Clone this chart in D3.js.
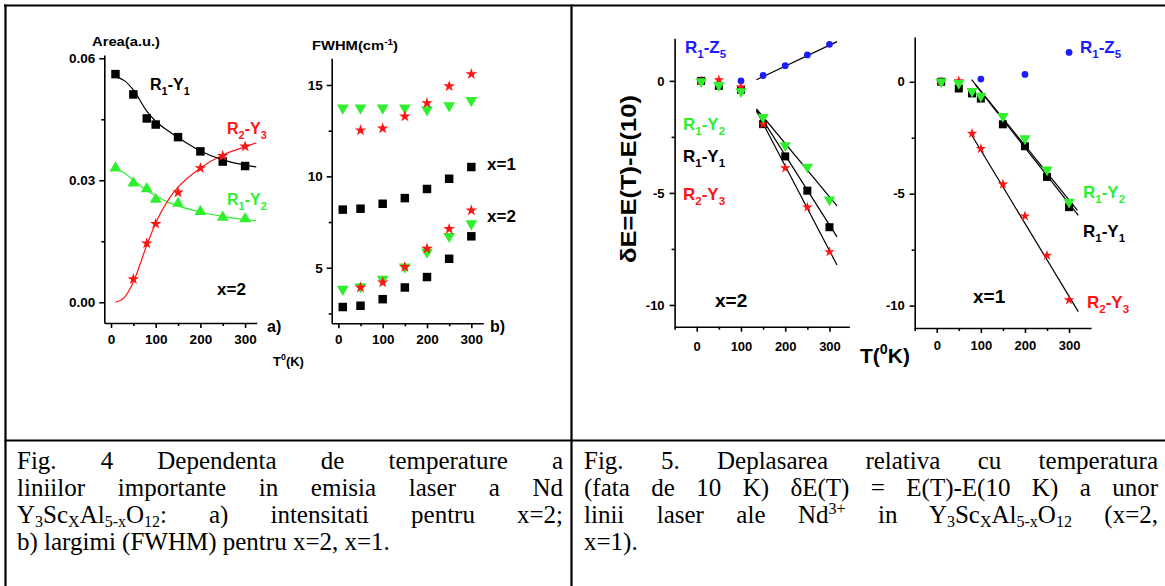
<!DOCTYPE html>
<html><head><meta charset="utf-8">
<script src="https://cdn.jsdelivr.net/npm/d3@7"></script>
<style>body{margin:0;background:#fff} svg{display:block}</style>
</head><body>
<svg id="c" width="1165" height="586"></svg>
<script>
// ---------- DATA ----------
// Fig 4 a) integrated area vs T, x=2
const T4a = [10, 50, 80, 100, 150, 200, 250, 300];
const areaR1Y1 = [0.0561, 0.0511, 0.0452, 0.0437, 0.0406, 0.0371, 0.0346, 0.0335];
const areaR1Y2 = [0.0330, 0.0293, 0.0279, 0.0253, 0.0243, 0.0223, 0.0209, 0.0205];
const T4aStar = [50, 80, 100, 150, 200, 250, 300];
const areaR2Y3 = [0.0057, 0.0145, 0.0193, 0.0270, 0.0330, 0.0360, 0.0383];
const fitT4a = [10, 30, 50, 80, 100, 130, 150, 200, 250, 300, 325];
const fitR1Y1 = [0.0555, 0.0545, 0.0522, 0.0470, 0.0445, 0.0420, 0.0405, 0.0372, 0.0350, 0.0337, 0.0333];
const fitR1Y2 = [0.0328, 0.0318, 0.0300, 0.0275, 0.0262, 0.0245, 0.0237, 0.0222, 0.0211, 0.0203, 0.0200];
const fitR2Y3 = [0.0000, 0.0012, 0.0050, 0.0140, 0.0195, 0.0255, 0.0283, 0.0330, 0.0362, 0.0382, 0.0392];

// Fig 4 b) FWHM vs T
const T4b = [10, 50, 100, 150, 200, 250, 300];
const T4bStar = [50, 100, 150, 200, 250, 300];
const fwhmGreenUp = [13.74, 13.74, 13.74, 13.74, 13.65, 13.87, 14.16];
const fwhmRedUp = [12.52, 12.63, 13.28, 14.01, 14.93, 15.60];
const fwhmBlackUp = [8.18, 8.23, 8.50, 8.81, 9.31, 9.87, 10.51];
const fwhmRedLow = [3.92, 4.20, 5.04, 6.04, 7.12, 8.14];
const fwhmGreenLow = [3.83, 3.97, 4.38, 5.04, 5.86, 6.72, 7.41];
const fwhmBlackLow = [2.85, 2.92, 3.28, 3.92, 4.49, 5.49, 6.72];

// Fig 5 left: x=2
const T5a = [10, 50, 100, 150, 200, 250, 300];
const dE2_R1Y2 = [-0.03, -0.20, -0.47, -1.62, -2.88, -3.84, -5.30];
const dE2_R1Y1 = [0.00, -0.22, -0.40, -1.93, -3.37, -4.90, -6.53];
const dE2_R2Y3 = [0.00, 0.04, -0.28, -1.93, -3.89, -5.64, -7.63];
const T5aZ = [10, 100, 150, 200, 250, 300];
const dE2_R1Z5 = [0.00, 0.00, 0.24, 0.68, 1.16, 1.63];
const fit2T = [135, 317];
const fit2_R1Z5 = [0.05, 1.75];
const fit2_R1Y2 = [-1.25, -5.58];
const fit2_R1Y1 = [-1.29, -6.96];
const fit2_R2Y3 = [-1.34, -8.22];

// Fig 5 right: x=1
const T5b = [10, 50, 80, 100, 150, 200, 250, 300];
const dE1_R1Y2 = [0.00, -0.07, -0.42, -0.64, -1.54, -2.54, -3.93, -5.37];
const dE1_R1Y1 = [0.00, -0.30, -0.52, -0.75, -1.90, -2.88, -4.25, -5.60];
const dE1_R2Y3 = [0.00, 0.04, -2.31, -2.99, -4.58, -6.00, -7.76, -9.75];
const T5bZ = [10, 100, 200, 300];
const dE1_R1Z5 = [0.03, 0.12, 0.33, 1.31];
const fit1T_Y2 = [79, 319];
const fit1_R1Y2 = [0.10, -5.75];
const fit1T_Y1 = [87, 321];
const fit1_R1Y1 = [-0.12, -5.97];
const fit1T_Y3 = [76, 321];
const fit1_R2Y3 = [-2.28, -10.27];

// tick values
const ticks4aY = [0, 0.03, 0.06], minor4aY = [0.015, 0.045];
const ticks4bY = [5, 10, 15], minor4bY = [2.5, 7.5, 12.5];
const ticksT = [0, 100, 200, 300], minorT4 = [50, 150, 250], minorT5 = [-50, 50, 150, 250];
const ticks5Y = [0, -5, -10], minor5Y = [-2.5, -7.5];

// ---------- DRAW ----------
const GREEN = '#2fef2f', RED = '#ff1414', BLUE = '#1c1cff', BLACK = '#000';
const SANS = 'Liberation Sans, Arial, sans-serif';
const SERIF = 'Liberation Serif, Times New Roman, serif';
const svg = d3.select('#c');
svg.append('rect').attr('width', 1165).attr('height', 586).attr('fill', '#fff');

function panel(p) {
  const x = d3.scaleLinear().domain(p.xd).range(p.xr);
  const y = d3.scaleLinear().domain(p.yd).range(p.yr);
  const g = svg.append('g');
  const style = sel => {
    sel.selectAll('path,line').attr('stroke', '#000').attr('stroke-width', 1.6);
    sel.selectAll('text').attr('font-family', SANS).attr('font-weight', 'bold')
      .attr('font-size', p.fs).attr('fill', '#000');
  };
  g.append('g').attr('transform', `translate(0,${p.yr[0]})`)
    .call(d3.axisBottom(x).tickValues(p.xm).tickSize(3).tickSizeOuter(0).tickFormat(''))
    .call(s => s.select('.domain').remove()).call(style);
  g.append('g').attr('transform', `translate(${p.xr[0]},0)`)
    .call(d3.axisLeft(y).tickValues(p.ym).tickSize(3).tickSizeOuter(0).tickFormat(''))
    .call(s => s.select('.domain').remove()).call(style);
  g.append('g').attr('transform', `translate(0,${p.yr[0]})`)
    .call(d3.axisBottom(x).tickValues(p.xt).tickSize(5).tickSizeOuter(0).tickPadding(p.xpad)
      .tickFormat(d => String(d))).call(style);
  g.append('g').attr('transform', `translate(${p.xr[0]},0)`)
    .call(d3.axisLeft(y).tickValues(p.yt).tickSize(5).tickSizeOuter(0).tickPadding(p.ypad)
      .tickFormat(p.yf)).call(style);
  return {x, y, g};
}

function marks(P, xs, ys, type, color, size, rot) {
  const sym = d3.symbol().type(type).size(size);
  P.g.append('g').selectAll('path').data(xs.map((t, i) => [t, ys[i]])).join('path')
    .attr('d', sym)
    .attr('transform', d => `translate(${P.x(d[0])},${P.y(d[1])})${rot ? ' rotate(180)' : ''}`)
    .attr('fill', color);
}
function curve(P, xs, ys, color, cv) {
  const line = d3.line().x(d => P.x(d[0])).y(d => P.y(d[1])).curve(cv || d3.curveLinear);
  P.g.append('path').datum(xs.map((t, i) => [t, ys[i]])).attr('d', line)
    .attr('fill', 'none').attr('stroke', color).attr('stroke-width', 1.2);
}
// parts: [[text, mode]] mode 0 normal, 1 sub, 2 sup
function rich(x, y, parts, color, fs, anchor) {
  const t = svg.append('text').attr('x', x).attr('y', y).attr('fill', color)
    .attr('font-family', SANS).attr('font-weight', 'bold').attr('font-size', fs)
    .attr('text-anchor', anchor || 'start');
  let cur = 0;
  parts.forEach(([s, m]) => {
    const off = m === 1 ? fs * 0.3 : m === 2 ? -fs * 0.45 : 0;
    t.append('tspan').attr('dy', off - cur).attr('font-size', m ? fs * 0.68 : fs).text(s);
    cur = off;
  });
  return t;
}
const lbl = (a, b, c, d) => [[a, 0], [b, 1], [c, 0], [d, 1]];

// Fig 4 a
const A = panel({xd: [-15, 326], xr: [104.3, 256.7], yd: [-0.0051, 0.0608], yr: [323, 55],
  xt: ticksT, xm: minorT4, yt: ticks4aY, ym: minor4aY, yf: d3.format('.2f'), fs: 13.5, xpad: 6, ypad: 4});
curve(A, fitT4a, fitR1Y1, BLACK, d3.curveMonotoneX);
curve(A, fitT4a, fitR1Y2, GREEN, d3.curveMonotoneX);
curve(A, fitT4a, fitR2Y3, RED, d3.curveMonotoneX);
marks(A, T4a, areaR1Y1, d3.symbolSquare, BLACK, 72);
marks(A, T4a, areaR1Y2, d3.symbolTriangle, GREEN, 60);
marks(A, T4aStar, areaR2Y3, d3.symbolStar, RED, 42);
rich(150, 90, lbl('R', '1', '-Y', '1'), BLACK, 16);
rich(227, 134, lbl('R', '2', '-Y', '3'), RED, 16);
rich(227, 205, lbl('R', '1', '-Y', '2'), GREEN, 16);
rich(217, 295, [['x=2', 0]], BLACK, 17);
rich(267, 332, [['a', 0], [')', 0]], BLACK, 16);
rich(92, 46, [['Area(a.u.)', 0]], BLACK, 12).attr('textLength', 68).attr('lengthAdjust', 'spacingAndGlyphs');
rich(273, 366, [['T', 0], ['0', 2], ['(K)', 0]], BLACK, 13);

// Fig 4 b
const B = panel({xd: [-15, 327], xr: [331.7, 483.3], yd: [1.96, 16.46], yr: [323.3, 58.3],
  xt: ticksT, xm: minorT4, yt: ticks4bY, ym: minor4bY, yf: d => String(d), fs: 13.5, xpad: 6, ypad: 4});
marks(B, T4b, fwhmGreenUp, d3.symbolTriangle, GREEN, 60, true);
marks(B, T4bStar, fwhmRedUp, d3.symbolStar, RED, 42);
marks(B, T4b, fwhmBlackUp, d3.symbolSquare, BLACK, 72);
marks(B, T4b, fwhmBlackLow, d3.symbolSquare, BLACK, 72);
marks(B, T4b, fwhmGreenLow, d3.symbolTriangle, GREEN, 60, true);
marks(B, T4bStar, fwhmRedLow, d3.symbolStar, RED, 42);
rich(312, 50, [['FWHM(cm', 0], ['-1', 2], [')', 0]], BLACK, 12).attr('textLength', 86).attr('lengthAdjust', 'spacingAndGlyphs');
rich(487, 170, [['x=1', 0]], BLACK, 17);
rich(487, 222, [['x=2', 0]], BLACK, 17);
rich(490, 332, [['b', 0], [')', 0]], BLACK, 16);

// Fig 5 left (x=2)
const C = panel({xd: [-50, 345], xr: [674.6, 849.4], yd: [-10.97, 1.9], yr: [326.7, 38.3],
  xt: ticksT, xm: minorT5, yt: ticks5Y, ym: minor5Y, yf: d => String(d), fs: 13, xpad: 10, ypad: 5});
curve(C, fit2T, fit2_R1Z5, BLACK);
curve(C, fit2T, fit2_R1Y2, BLACK);
curve(C, fit2T, fit2_R1Y1, BLACK);
curve(C, fit2T, fit2_R2Y3, BLACK);
marks(C, T5aZ, dE2_R1Z5, d3.symbolCircle, BLUE, 36);
marks(C, T5a, dE2_R1Y1, d3.symbolSquare, BLACK, 64);
marks(C, T5a, dE2_R2Y3, d3.symbolStar, RED, 34);
marks(C, T5a, dE2_R1Y2, d3.symbolTriangle, GREEN, 55, true);
rich(685, 53, lbl('R', '1', '-Z', '5'), BLUE, 17);
rich(683, 130, lbl('R', '1', '-Y', '2'), GREEN, 17);
rich(683, 162, lbl('R', '1', '-Y', '1'), BLACK, 17);
rich(683, 200, lbl('R', '2', '-Y', '3'), RED, 17);
rich(715, 307, [['x=2', 0]], BLACK, 19);
rich(0, 0, [['δE=E(T)-E(10)', 0]], BLACK, 22, 'middle')
  .attr('transform', 'translate(636,179) rotate(-90)')
  .attr('textLength', 168).attr('lengthAdjust', 'spacingAndGlyphs');

// Fig 5 right (x=1)
const D = panel({xd: [-50, 350], xr: [914.7, 1091.1], yd: [-11, 2], yr: [328, 37],
  xt: ticksT, xm: minorT5, yt: ticks5Y, ym: minor5Y, yf: d => String(d), fs: 13, xpad: 8, ypad: 5});
curve(D, fit1T_Y2, fit1_R1Y2, BLACK);
curve(D, fit1T_Y1, fit1_R1Y1, BLACK);
curve(D, fit1T_Y3, fit1_R2Y3, BLACK);
marks(D, T5bZ, dE1_R1Z5, d3.symbolCircle, BLUE, 36);
marks(D, T5b, dE1_R1Y1, d3.symbolSquare, BLACK, 64);
marks(D, T5b, dE1_R2Y3, d3.symbolStar, RED, 34);
marks(D, T5b, dE1_R1Y2, d3.symbolTriangle, GREEN, 55, true);
rich(1080, 53, lbl('R', '1', '-Z', '5'), BLUE, 17);
rich(1083, 198, lbl('R', '1', '-Y', '2'), GREEN, 17);
rich(1083, 237, lbl('R', '1', '-Y', '1'), BLACK, 17);
rich(1087, 308, lbl('R', '2', '-Y', '3'), RED, 17);
rich(973, 303, [['x=1', 0]], BLACK, 19);
rich(860, 363, [['T(', 0], ['0', 2], ['K)', 0]], BLACK, 21);

// ---------- table borders ----------
const borders = svg.append('g').attr('stroke', '#000').attr('stroke-width', 2.2);
borders.append('line').attr('x1', 4).attr('x2', 1165).attr('y1', 5.5).attr('y2', 5.5);
borders.append('line').attr('x1', 5.5).attr('x2', 5.5).attr('y1', 4.5).attr('y2', 586);
borders.append('line').attr('x1', 571.5).attr('x2', 571.5).attr('y1', 4.5).attr('y2', 586);
borders.append('line').attr('x1', 4.5).attr('x2', 1165).attr('y1', 440.5).attr('y2', 440.5);

// ---------- captions ----------
const CFS = 25;
function capLine(x1, x2, y, parts, justify) {
  const t = svg.append('text').attr('x', x1).attr('y', y).attr('font-family', SERIF)
    .attr('font-size', CFS).attr('fill', '#000');
  let cur = 0, full = '';
  parts.forEach(([s, m]) => {
    const off = m === 1 ? CFS * 0.14 : m === 2 ? -CFS * 0.36 : 0;
    t.append('tspan').attr('dy', off - cur).attr('font-size', m ? CFS * 0.64 : CFS).text(s);
    cur = off; full += s;
  });
  if (justify) {
    const w = t.node().getComputedTextLength();
    const n = (full.match(/ /g) || []).length;
    if (n) t.attr('word-spacing', (x2 - x1 - w) / n);
  }
}
const C4x1 = 17, C4x2 = 563, C5x1 = 584, C5x2 = 1158;
const capY = [469, 496, 523, 550];
capLine(C4x1, C4x2, capY[0], [['Fig. 4 Dependenta de temperature a', 0]], true);
capLine(C4x1, C4x2, capY[1], [['liniilor importante in emisia laser a Nd', 0]], true);
capLine(C4x1, C4x2, capY[2], [['Y', 0], ['3', 1], ['Sc', 0], ['X', 1], ['Al', 0], ['5-x', 1], ['O', 0], ['12', 1], [': a) intensitati pentru x=2;', 0]], true);
capLine(C4x1, C4x2, capY[3], [['b) largimi (FWHM) pentru x=2, x=1.', 0]], false);
capLine(C5x1, C5x2, capY[0], [['Fig. 5. Deplasarea relativa cu temperatura', 0]], true);
capLine(C5x1, C5x2, capY[1], [['(fata de 10 K) δE(T) = E(T)-E(10 K) a unor', 0]], true);
capLine(C5x1, C5x2, capY[2], [['linii laser ale Nd', 0], ['3+', 2], [' in Y', 0], ['3', 1], ['Sc', 0], ['X', 1], ['Al', 0], ['5-x', 1], ['O', 0], ['12', 1], [' (x=2,', 0]], true);
capLine(C5x1, C5x2, capY[3], [['x=1).', 0]], false);
</script>
</body></html>
